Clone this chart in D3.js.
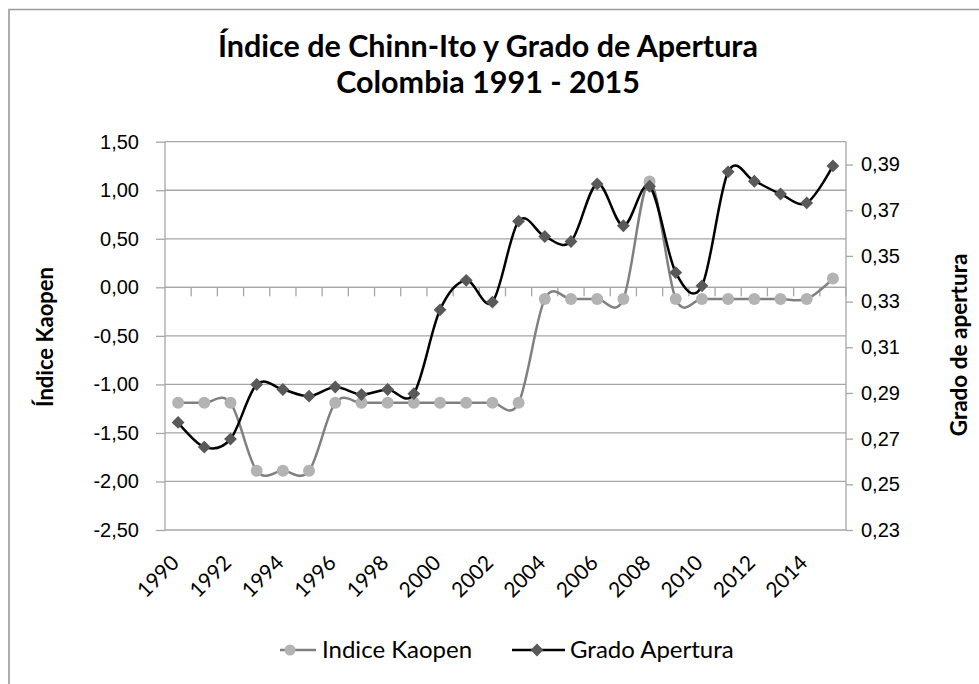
<!DOCTYPE html>
<html>
<head>
<meta charset="utf-8">
<script src="https://cdn.jsdelivr.net/npm/d3@7/dist/d3.min.js"></script>
<style>
  html, body { margin: 0; padding: 0; background: #fff; }
  svg { display: block; font-family: Lato, "Open Sans", sans-serif; }
</style>
</head>
<body>
<svg id="chart" width="979" height="684"></svg>
<script>
// ---- data ----
const years = d3.range(1990, 2016);
const kaopen = [-1.19, -1.19, -1.19, -1.89, -1.89, -1.89, -1.19, -1.19, -1.19, -1.19,
                -1.19, -1.19, -1.19, -1.19, -0.12, -0.12, -0.12, -0.12, 1.09, -0.12,
                -0.12, -0.12, -0.12, -0.12, -0.12, 0.09];
const apertura = [0.2771, 0.2663, 0.2698, 0.2937, 0.2915, 0.2886, 0.2926, 0.2893, 0.2915, 0.2897,
                  0.3264, 0.3393, 0.3298, 0.3652, 0.3585, 0.3563, 0.3815, 0.3632, 0.3805, 0.3427,
                  0.3369, 0.3868, 0.3827, 0.3771, 0.3732, 0.3894];
const leftTicks = [1.5, 1.0, 0.5, 0.0, -0.5, -1.0, -1.5, -2.0, -2.5];
const rightTicks = [0.39, 0.37, 0.35, 0.33, 0.31, 0.29, 0.27, 0.25, 0.23];
const xLabelYears = d3.range(1990, 2015, 2);
const titleLines = ["Índice de Chinn-Ito y Grado de Apertura", "Colombia 1991 - 2015"];
const seriesNames = ["Indice Kaopen", "Grado Apertura"];

// ---- layout ----
const L = 165, R = 846, T = 141.7, B = 530;
const svg = d3.select("#chart");
const comma = v => v.toFixed(2).replace(".", ",");

// outer frame (cropped at right/bottom)
svg.append("path").attr("d", "M9,684 V9.5 H979")
  .attr("fill", "none").attr("stroke", "#9a9a9a").attr("stroke-width", 1.6);

const x = d3.scaleBand().domain(years).range([L, R]);
const yL = d3.scaleLinear().domain([-2.5, 1.5]).range([B, T]);
const yR = d3.scaleLinear().domain([0.23, 0.40]).range([B, T]);

// gridlines
svg.append("g").selectAll("line").data(leftTicks).join("line")
  .attr("x1", L).attr("x2", R)
  .attr("y1", d => yL(d)).attr("y2", d => yL(d))
  .attr("stroke", "#a6a6a6").attr("stroke-width", 1.3);

// left axis
const gL = svg.append("g").attr("transform", `translate(${L},0)`)
  .call(d3.axisLeft(yL).tickValues(leftTicks).tickFormat(comma).tickSize(9).tickPadding(17));
gL.select(".domain").attr("stroke", "#a6a6a6").attr("stroke-width", 1.3).attr("d", `M0,${T}V${B}`);
gL.selectAll(".tick line").attr("stroke", "#a6a6a6").attr("stroke-width", 1.3);
gL.selectAll("text").attr("font-size", 20).attr("fill", "#000");

// right axis
const gR = svg.append("g").attr("transform", `translate(${R},0)`)
  .call(d3.axisRight(yR).tickValues(rightTicks).tickFormat(comma).tickSize(7).tickPadding(8));
gR.select(".domain").attr("stroke", "#a6a6a6").attr("stroke-width", 1.3).attr("d", `M0,${T}V${B}`);
gR.selectAll(".tick line").attr("stroke", "#a6a6a6").attr("stroke-width", 1.3);
gR.selectAll("text").attr("font-size", 20).attr("fill", "#000");

// category axis at 0 with ticks downward at band boundaries
const y0 = yL(0);
svg.append("line").attr("x1", L).attr("x2", R).attr("y1", y0).attr("y2", y0)
  .attr("stroke", "#a6a6a6").attr("stroke-width", 1.3);
svg.append("g").selectAll("line").data(years.slice(1).concat([null])).join("line")
  .attr("x1", (d, i) => L + (i + 1) * x.step()).attr("x2", (d, i) => L + (i + 1) * x.step())
  .attr("y1", y0).attr("y2", y0 + 9)
  .attr("stroke", "#a6a6a6").attr("stroke-width", 1.3);

// x labels rotated at bottom
svg.append("g").selectAll("text").data(xLabelYears).join("text")
  .attr("transform", d => `translate(${x(d) + x.bandwidth() / 2 - 3},${B + 29}) rotate(-45)`)
  .attr("text-anchor", "end").attr("dy", "0.35em")
  .attr("font-size", 21).text(d => d);

// lines
const curve = d3.curveCardinal.tension(0);
const cx = d => x(d) + x.bandwidth() / 2;
const lineK = d3.line().x((d, i) => cx(years[i])).y(d => yL(d)).curve(curve);
const lineA = d3.line().x((d, i) => cx(years[i])).y(d => yR(d)).curve(curve);

svg.append("path").attr("d", lineK(kaopen)).attr("fill", "none")
  .attr("stroke", "#808080").attr("stroke-width", 2.5);
svg.append("g").selectAll("circle").data(kaopen).join("circle")
  .attr("cx", (d, i) => cx(years[i])).attr("cy", d => yL(d)).attr("r", 6)
  .attr("fill", "#b3b3b3");

svg.append("path").attr("d", lineA(apertura)).attr("fill", "none")
  .attr("stroke", "#000").attr("stroke-width", 2.5);
const diamond = d3.symbol().type(d3.symbolDiamond2).size(105);
svg.append("g").selectAll("path").data(apertura).join("path")
  .attr("transform", (d, i) => `translate(${cx(years[i])},${yR(d)})`)
  .attr("d", diamond).attr("fill", "#595959");

// title
svg.append("g").selectAll("text").data(titleLines).join("text")
  .attr("x", 488).attr("y", (d, i) => 57 + i * 36)
  .attr("text-anchor", "middle").attr("font-size", 30.5).attr("font-weight", "bold")
  .text(d => d);

// axis titles
svg.append("text").attr("transform", `translate(53,337) rotate(-90)`)
  .attr("text-anchor", "middle").attr("font-size", 22).attr("font-weight", "bold")
  .text("Índice Kaopen");
svg.append("text").attr("transform", `translate(967,345) rotate(-90)`)
  .attr("text-anchor", "middle").attr("font-size", 22.5).attr("font-weight", "bold")
  .text("Grado de apertura");

// legend
const lg = svg.append("g");
const ly = 650;
lg.append("line").attr("x1", 280).attr("x2", 316).attr("y1", ly).attr("y2", ly)
  .attr("stroke", "#808080").attr("stroke-width", 2.5);
lg.append("circle").attr("cx", 290).attr("cy", ly).attr("r", 5.5).attr("fill", "#b3b3b3");
lg.append("text").attr("x", 322).attr("y", ly).attr("dy", "0.35em").attr("font-size", 24)
  .text(seriesNames[0]);
lg.append("line").attr("x1", 512).attr("x2", 565).attr("y1", ly).attr("y2", ly)
  .attr("stroke", "#000").attr("stroke-width", 2.5);
lg.append("path").attr("transform", `translate(537,${ly})`).attr("d", diamond).attr("fill", "#595959");
lg.append("text").attr("x", 570).attr("y", ly).attr("dy", "0.35em").attr("font-size", 24)
  .text(seriesNames[1]);
</script>
</body>
</html>
